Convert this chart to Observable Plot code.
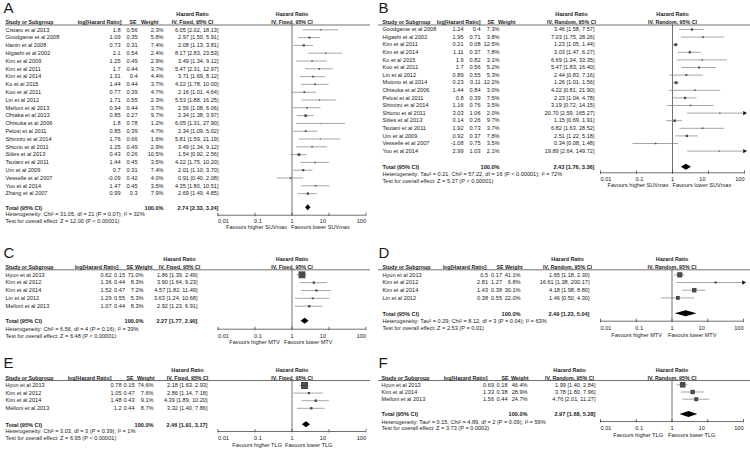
<!DOCTYPE html>
<html><head><meta charset="utf-8">
<script src="https://cdn.jsdelivr.net/npm/d3@7"></script>
<script src="https://cdn.jsdelivr.net/npm/@observablehq/plot@0.6"></script>
<style>
html,body{margin:0;padding:0;background:#fff;}
#chart{position:relative;width:750px;height:449px;overflow:hidden;font-family:"Liberation Sans",Arial,sans-serif;}
.panel{position:absolute;}
</style></head><body><div id="chart"></div>
<script>
// ---------- Panel A: SUVmax, fixed ----------
const studiesA = ["Cistaro et al 2013","Goodgame et al 2008","Hanin et al 2008","Higashi et al 2002","Kim et al 2009","Kim et al 2011","Kim et al 2014","Ko et al 2015","Koo et al 2011","Lin et al 2012","Melloni et al 2013","Ohtaka et al 2013","Ohtsuka et al 2006","Pelosi et al 2011","Shimizu et al 2014","Shiono et al 2011","Stiles et al 2013","Tsutani et al 2011","Um et al 2009","Vesselle et al 2007","Yoo et al 2014","Zhang et al 2007"];
const logHrA = [1.8,1.09,0.73,2.1,1.25,1.7,1.31,1.44,0.77,1.71,0.94,0.85,1.8,0.85,1.76,1.25,0.43,1.44,0.7,-0.09,1.47,0.99];
const seA = [0.56,0.35,0.31,0.54,0.49,0.44,0.4,0.44,0.39,0.55,0.44,0.27,0.78,0.39,0.66,0.49,0.26,0.45,0.31,0.42,0.45,0.3];
const weightA = [2.3,5.8,7.4,2.4,2.9,3.7,4.4,3.7,4.7,2.3,3.7,9.7,1.2,4.7,1.6,2.9,10.5,3.5,7.4,4.0,3.5,7.9];
const hrA = [6.05,2.97,2.08,8.17,3.49,5.47,3.71,4.22,2.16,5.53,2.56,2.34,6.05,2.34,5.81,3.49,1.54,4.22,2.01,0.91,4.35,2.69];
const loA = [2.02,1.50,1.13,2.83,1.34,2.31,1.69,1.78,1.01,1.88,1.08,1.38,1.31,1.09,1.59,1.34,0.92,1.75,1.10,0.40,1.80,1.49];
const hiA = [18.13,5.91,3.81,23.53,9.12,12.97,8.12,10.00,4.64,16.25,6.06,3.97,27.90,5.02,21.19,9.12,2.56,10.20,3.70,2.08,10.51,4.85];
const totalA = [2.74, 2.33, 3.24];
const notesA = ["Heterogeneity: Chi² = 31.05, df = 21 (P = 0.07); I² = 32%", "Test for overall effect: Z = 12.00 (P < 0.00001)"];

// ---------- Panel B: SUVmax, random ----------
const studiesB = ["Goodgame et al 2008","Higashi et al 2002","Kim et al 2011","Kim et al 2014","Ko et al 2015","Koo et al 2011","Lin et al 2012","Motono et al 2014","Ohtsuka et al 2006","Pelosi et al 2011","Shimizu et al 2014","Shiono et al 2011","Stiles et al 2013","Tsutani et al 2011","Um et al 2009","Vesselle et al 2007","Yoo et al 2014"];
const logHrB = [1.24,1.95,0.21,1.11,1.9,1.7,0.89,0.23,1.44,0.8,1.16,3.03,0.14,1.92,0.92,-1.08,2.99];
const seB = [0.4,0.71,0.08,0.37,0.82,0.56,0.55,0.11,0.84,0.39,0.76,1.06,0.26,0.73,0.37,0.75,1.03];
const weightB = [7.3,3.8,12.5,7.8,3.1,5.2,5.3,12.2,3.0,7.5,3.5,2.0,9.7,3.7,7.8,3.5,2.1];
const hrB = [3.46,7.03,1.23,3.03,6.69,5.47,2.44,1.26,4.22,2.23,3.19,20.70,1.15,6.82,2.51,0.34,19.89];
const loB = [1.58,1.75,1.05,1.47,1.34,1.83,0.83,1.01,0.81,1.04,0.72,2.59,0.69,1.63,1.22,0.08,2.64];
const hiB = [7.57,28.26,1.44,6.27,33.35,16.40,7.16,1.56,21.90,4.78,14.15,165.27,1.91,28.52,5.18,1.48,149.72];
const totalB = [2.43, 1.76, 3.36];
const notesB = ["Heterogeneity: Tau² = 0.21; Chi² = 57.22, df = 16 (P < 0.00001); I² = 72%", "Test for overall effect: Z = 5.37 (P < 0.00001)"];

// ---------- Panel C: MTV, fixed ----------
const studiesC = ["Hyun et al 2013","Kim et al 2012","Kim et al 2014","Lin et al 2012","Melloni et al 2013"];
const logHrC = [0.62,1.36,1.52,1.29,1.07];
const seC = [0.15,0.44,0.47,0.55,0.44];
const weightC = [71.0,8.3,7.2,5.3,8.3];
const hrC = [1.86,3.90,4.57,3.63,2.92];
const loC = [1.39,1.64,1.82,1.24,1.23];
const hiC = [2.49,9.23,11.49,10.68,6.91];
const totalC = [2.27, 1.77, 2.90];
const notesC = ["Heterogeneity: Chi² = 6.56, df = 4 (P = 0.16); I² = 39%", "Test for overall effect: Z = 6.48 (P < 0.00001)"];

// ---------- Panel D: MTV, random ----------
const studiesD = ["Hyun et al 2013","Kim et al 2012","Kim et al 2014","Lin et al 2012"];
const logHrD = [0.5,2.81,1.43,0.38];
const seD = [0.17,1.27,0.38,0.55];
const weightD = [41.1,6.8,30.1,22.0];
const hrD = [1.65,16.61,4.18,1.46];
const loD = [1.18,1.38,1.98,0.50];
const hiD = [2.30,200.17,8.80,4.30];
const totalD = [2.49, 1.23, 5.04];
const notesD = ["Heterogeneity: Tau² = 0.29; Chi² = 8.12, df = 3 (P = 0.04); I² = 63%", "Test for overall effect: Z = 2.53 (P = 0.01)"];

// ---------- Panel E: TLG, fixed ----------
const studiesE = ["Hyun et al 2013","Kim et al 2012","Kim et al 2014","Melloni et al 2013"];
const logHrE = [0.78,1.05,1.48,1.2];
const seE = [0.15,0.47,0.43,0.44];
const weightE = [74.6,7.6,9.1,8.7];
const hrE = [2.18,2.86,4.39,3.32];
const loE = [1.63,1.14,1.89,1.40];
const hiE = [2.93,7.18,10.20,7.86];
const totalE = [2.46, 1.91, 3.17];
const notesE = ["Heterogeneity: Chi² = 3.03, df = 3 (P = 0.39); I² = 1%", "Test for overall effect: Z = 6.95 (P < 0.00001)"];

// ---------- Panel F: TLG, random ----------
const studiesF = ["Hyun et al 2013","Kim et al 2014","Melloni et al 2013"];
const logHrF = [0.69,1.33,1.56];
const seF = [0.18,0.38,0.44];
const weightF = [46.4,28.9,24.7];
const hrF = [1.99,3.78,4.76];
const loF = [1.40,1.80,2.01];
const hiF = [2.84,7.96,11.27];
const totalF = [2.97, 1.68, 5.28];
const notesF = ["Heterogeneity: Tau² = 0.15; Chi² = 4.89, df = 2 (P = 0.09); I² = 59%", "Test for overall effect: Z = 3.73 (P = 0.0002)"];

const tickValues = [0.01, 0.1, 1, 10, 100];
const tickLabels = ["0.01", "0.1", "1", "10", "100"];

// ---------- layout (panel-local pixels, styles) ----------
const tickAnchor = ["start", "start", "middle", "end", "end"];
const tickDx = [0, -1, 0, -3, 0];

const panels = [
  {letter: "A", left: 0, top: 0, w: 375, h: 245, method: "IV, Fixed, 95% CI", outcome: "SUVmax",
   studies: studiesA, logHr: logHrA, se: seA, weight: weightA, hr: hrA, lo: loA, hi: hiA, total: totalA, notes: notesA,
   L: {h1: 13.3, h2: 21.7, line: 24.5, row0: 29.3, step: 7.8, total: 207.3, het: 213.8, test: 220.3, axis: 214.7, tickLab: 221, fav: 226.5, lineL: 5, lineR: 5, favDx: [-5, -1]},
   C: {study: 5, logEnd: 120, seEnd: 137, wEnd: 163, ciEnd: 218, hLogEnd: 121, hSeEnd: 136, hWEnd: 158, ciHead: 192, xr: [217.5, 365.5]}},
  {letter: "B", left: 375, top: 0, w: 375, h: 245, method: "IV, Random, 95% CI", outcome: "SUVmax",
   studies: studiesB, logHr: logHrB, se: seB, weight: weightB, hr: hrB, lo: loB, hi: hiB, total: totalB, notes: notesB,
   L: {h1: 13.3, h2: 21.7, line: 24.5, row0: 29, step: 7.6, total: 166.7, het: 174, test: 180.7, axis: 172.3, tickLab: 178.3, fav: 185, lineL: 3, lineR: 0, favDx: [-4, 0]},
   C: {study: 7, logEnd: 88, seEnd: 105, wEnd: 124, ciEnd: 219, hLogEnd: 105, hSeEnd: 119, hWEnd: 140, ciHead: 196, xr: [225, 369]}},
  {letter: "C", left: 0, top: 245, w: 375, h: 110, method: "IV, Fixed, 95% CI", outcome: "MTV",
   studies: studiesC, logHr: logHrC, se: seC, weight: weightC, hr: hrC, lo: loC, hi: hiC, total: totalC, notes: notesC,
   L: {h1: 13.3, h2: 21.7, line: 24.3, row0: 29.3, step: 7.85, total: 75.7, het: 83.5, test: 90.5, axis: 83.7, tickLab: 90.7, fav: 96.7, lineL: 5, lineR: 5, favDx: [-12, -8]},
   C: {study: 5, logEnd: 111, seEnd: 124.5, wEnd: 143, ciEnd: 197, hLogEnd: 118, hSeEnd: 133, hWEnd: 152, ciHead: 179, xr: [217.5, 365.5]}},
  {letter: "D", left: 375, top: 245, w: 375, h: 110, method: "IV, Random, 95% CI", outcome: "MTV",
   studies: studiesD, logHr: logHrD, se: seD, weight: weightD, hr: hrD, lo: loD, hi: hiD, total: totalD, notes: notesD,
   L: {h1: 13.3, h2: 21.7, line: 24.3, row0: 29.3, step: 7.7, total: 68.3, het: 75.7, test: 82.3, axis: 75.7, tickLab: 82.3, fav: 89.3, lineL: 3, lineR: 0, favDx: [-10, -4]},
   C: {study: 7, logEnd: 112.5, seEnd: 126.5, wEnd: 145, ciEnd: 214, hLogEnd: 111, hSeEnd: 128, hWEnd: 147, ciHead: 192, xr: [225, 368]}},
  {letter: "E", left: 0, top: 355, w: 375, h: 94, method: "IV, Fixed, 95% CI", outcome: "TLG",
   studies: studiesE, logHr: logHrE, se: seE, weight: weightE, hr: hrE, lo: loE, hi: hiE, total: totalE, notes: notesE,
   L: {h1: 14.7, h2: 22.7, line: 25, row0: 30, step: 7.6, total: 69.3, het: 76, test: 82.3, axis: 76, tickLab: 82.7, fav: 90, lineL: 5, lineR: 5, favDx: [-10, -7]},
   C: {study: 5, logEnd: 121, seEnd: 134, wEnd: 153, ciEnd: 207, hLogEnd: 111, hSeEnd: 133, hWEnd: 154, ciHead: 187, xr: [217.5, 365.5]}},
  {letter: "F", left: 375, top: 355, w: 375, h: 94, method: "IV, Random, 95% CI", outcome: "TLG",
   studies: studiesF, logHr: logHrF, se: seF, weight: weightF, hr: hrF, lo: loF, hi: hiF, total: totalF, notes: notesF,
   L: {h1: 14.7, h2: 22.7, line: 25, row0: 29.3, step: 7.2, total: 59, het: 66.7, test: 72.7, axis: 66, tickLab: 72.7, fav: 80, lineL: 3, lineR: 0, favDx: [-9, -4]},
   C: {study: 6, logEnd: 118.5, seEnd: 132, wEnd: 152, ciEnd: 220, hLogEnd: 112, hSeEnd: 133, hWEnd: 153, ciHead: 194, xr: [225, 368]}}
];

const FS = 5.6;      // body text
const HFS = 5.3;     // bold header text
const INK = "#1a1a1a";
const fmt2 = v => v.toFixed(2);

function makePanel(p) {
  const L = p.L, C = p.C;
  const rows = p.studies.map((s, i) => ({
    study: s, logHr: String(p.logHr[i]), se: String(p.se[i]), w: p.weight[i].toFixed(1) + "%",
    ci: `${fmt2(p.hr[i])} [${fmt2(p.lo[i])}, ${fmt2(p.hi[i])}]`,
    hr: p.hr[i], lo: p.lo[i], hi: p.hi[i], weight: p.weight[i], y: L.row0 + i * L.step
  }));
  const within = rows.filter(d => d.hi <= 100);
  const beyond = rows.filter(d => d.hi > 100);
  const [tHr, tLo, tHi] = p.total;
  const diamond = [
    {x: tLo, y1: L.total, y2: L.total},
    {x: tHr, y1: L.total - 3, y2: L.total + 3},
    {x: tHi, y1: L.total, y2: L.total}
  ];
  const T = (data, o) => Plot.text(data, {fontSize: FS, frameAnchor: "left", fill: INK, ...o});
  const H = (t, y, o) => Plot.text([{t, y}], {y: "y", text: "t", fontSize: HFS, fontWeight: "bold", frameAnchor: "left", fill: INK, ...o});
  const one = (t, y) => [{t, y}];
  const ticks = tickValues.map((v, i) => ({v, label: tickLabels[i]}));

  const marks = [
    Plot.text([p.letter], {frameAnchor: "top-left", dx: 3, dy: 2, fontSize: 15, lineAnchor: "top", fill: INK}),
    // header line 1
    H("Hazard Ratio", L.h1, {dx: C.ciHead, textAnchor: "middle"}),
    Plot.text([{t: "Hazard Ratio", x: 1, y: L.h1}], {x: "x", y: "y", text: "t", fontSize: HFS, fontWeight: "bold", fill: INK}),
    // header line 2
    H("Study or Subgroup", L.h2, {dx: C.study, textAnchor: "start"}),
    H("log[Hazard Ratio]", L.h2, {dx: C.hLogEnd, textAnchor: "end"}),
    H("SE", L.h2, {dx: C.hSeEnd, textAnchor: "end"}),
    H("Weight", L.h2, {dx: C.hWEnd, textAnchor: "end"}),
    H(p.method, L.h2, {dx: C.ciHead, textAnchor: "middle"}),
    Plot.text([{t: p.method, x: 1, y: L.h2}], {x: "x", y: "y", text: "t", fontSize: HFS, fontWeight: "bold", fill: INK}),
    Plot.ruleY([L.line], {insetLeft: L.lineL, insetRight: L.lineR, stroke: "#333", strokeWidth: 0.7}),
    // study rows
    T(rows, {y: "y", text: "study", dx: C.study, textAnchor: "start"}),
    T(rows, {y: "y", text: "logHr", dx: C.logEnd, textAnchor: "end"}),
    T(rows, {y: "y", text: "se", dx: C.seEnd, textAnchor: "end"}),
    T(rows, {y: "y", text: "w", dx: C.wEnd, textAnchor: "end"}),
    T(rows, {y: "y", text: "ci", dx: C.ciEnd, textAnchor: "end"}),
    // total row
    T(one("Total (95% CI)", L.total), {y: "y", text: "t", dx: C.study, textAnchor: "start", fontWeight: "bold"}),
    T(one("100.0%", L.total), {y: "y", text: "t", dx: C.wEnd, textAnchor: "end", fontWeight: "bold"}),
    T(one(`${fmt2(tHr)} [${fmt2(tLo)}, ${fmt2(tHi)}]`, L.total), {y: "y", text: "t", dx: C.ciEnd, textAnchor: "end", fontWeight: "bold"}),
    T(one(p.notes[0], L.het), {y: "y", text: "t", dx: C.study, textAnchor: "start"}),
    T(one(p.notes[1], L.test), {y: "y", text: "t", dx: C.study, textAnchor: "start"}),
    // forest: reference line at 1
    Plot.ruleX([1], {y1: L.line, y2: L.axis, stroke: "#333", strokeWidth: 0.7}),
    // confidence intervals
    Plot.ruleY(within, {x1: "lo", x2: "hi", y: "y", stroke: "#808080", strokeWidth: 0.7}),
    Plot.ruleY(beyond, {x1: "lo", x2: () => 100, y: "y", stroke: "#808080", strokeWidth: 0.7}),
    Plot.dot(beyond, {x: () => 100, y: "y", symbol: "triangle", rotate: 90, r: 1.6, fill: "#111", stroke: "none"}),
    Plot.dot(rows, {x: "hr", y: "y", r: "weight", symbol: "square", fill: "#4a4a4a", stroke: "none"}),
    // pooled diamond
    Plot.areaY(diamond, {x: "x", y1: "y1", y2: "y2", fill: "#000"}),
    // axis
    Plot.ruleY([L.axis], {x1: 0.01, x2: 100, stroke: "#333", strokeWidth: 0.7}),
    Plot.ruleX(ticks, {x: "v", y1: L.axis - 2, y2: L.axis + 1.5, stroke: "#333", strokeWidth: 0.7}),
    ...ticks.map((t, i) => Plot.text([t], {x: "v", y: L.tickLab, text: "label", fontSize: FS, fill: INK, textAnchor: tickAnchor[i], dx: tickDx[i]})),
    Plot.text([{t: `Favours higher ${p.outcome}`, x: 1, y: L.fav}], {x: "x", y: "y", text: "t", dx: L.favDx[0], textAnchor: "end", fontSize: FS, fill: INK}),
    Plot.text([{t: `Favours lower ${p.outcome}`, x: 1, y: L.fav}], {x: "x", y: "y", text: "t", dx: L.favDx[1], textAnchor: "start", fontSize: FS, fill: INK})
  ];

  const svg = Plot.plot({
    width: p.w, height: p.h,
    marginTop: 0, marginRight: 0, marginBottom: 0, marginLeft: 0,
    x: {type: "log", domain: [0.01, 100], range: C.xr, axis: null},
    y: {type: "identity", axis: null},
    r: {type: "sqrt", domain: [0, 100], range: [0, 4.6]},
    style: {fontFamily: "'Liberation Sans', Arial, sans-serif", background: "transparent", overflow: "visible"},
    marks
  });
  const wrap = document.createElement("div");
  wrap.className = "panel";
  wrap.style.left = p.left + "px";
  wrap.style.top = p.top + "px";
  wrap.appendChild(svg);
  document.getElementById("chart").appendChild(wrap);
}

panels.forEach(makePanel);
</script>
</body></html>
